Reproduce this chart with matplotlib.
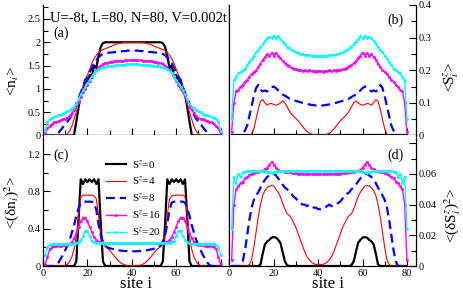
import matplotlib.pyplot as plt

plt.rcParams['font.family'] = ['Liberation Serif', 'DejaVu Serif']
plt.rcParams['mathtext.fontset'] = 'stix'

site = list(range(1, 81))

# (a) <n_i>
n_s0 = [0, 0, 0, 0, 0, 0, 0, 0, 0, 0,
        0, 0, 0, 0.02, 0.3, 0.6, 0.9, 1.0, 1.2, 1.1,
        1.3, 1.25, 1.5, 1.45, 1.7, 1.9, 1.98, 2, 2, 2,
        2, 2, 2, 2, 2, 2, 2, 2, 2, 2,
        2, 2, 2, 2, 2, 2, 2, 2, 2, 2,
        2, 2, 2, 1.98, 1.9, 1.7, 1.45, 1.5, 1.25, 1.3,
        1.1, 1.2, 1.0, 0.9, 0.6, 0.3, 0.02, 0, 0, 0,
        0, 0, 0, 0, 0, 0, 0, 0, 0, 0]
n_s4 = [0, 0, 0, 0, 0, 0, 0, 0, 0, 0.01,
        0.04, 0.1, 0.2, 0.35, 0.5, 0.7, 0.9, 1.05, 1.2, 1.3,
        1.42, 1.55, 1.65, 1.72, 1.78, 1.82, 1.84, 1.86, 1.88, 1.9,
        1.92, 1.94, 1.96, 1.97, 1.98, 1.99, 2, 2, 2, 2,
        2, 2, 2, 2, 1.99, 1.98, 1.97, 1.96, 1.94, 1.92,
        1.9, 1.88, 1.86, 1.84, 1.82, 1.78, 1.72, 1.65, 1.55, 1.42,
        1.3, 1.2, 1.05, 0.9, 0.7, 0.5, 0.35, 0.2, 0.1, 0.04,
        0.01, 0, 0, 0, 0, 0, 0, 0, 0, 0]
n_s8 = [0, 0, 0, 0, 0, 0.02, 0.06, 0.12, 0.18, 0.25,
        0.3, 0.36, 0.45, 0.55, 0.68, 0.8, 0.92, 1.05, 1.15, 1.25,
        1.35, 1.45, 1.55, 1.62, 1.68, 1.72, 1.75, 1.76, 1.77, 1.78,
        1.78, 1.79, 1.79, 1.8, 1.8, 1.81, 1.81, 1.82, 1.82, 1.82,
        1.82, 1.82, 1.82, 1.81, 1.81, 1.8, 1.8, 1.79, 1.79, 1.78,
        1.78, 1.77, 1.76, 1.75, 1.72, 1.68, 1.62, 1.55, 1.45, 1.35,
        1.25, 1.15, 1.05, 0.92, 0.8, 0.68, 0.55, 0.45, 0.36, 0.3,
        0.25, 0.18, 0.12, 0.06, 0.02, 0, 0, 0, 0, 0]
n_s16 = [0.05, 0.15, 0.2, 0.25, 0.28, 0.3, 0.31, 0.33, 0.35, 0.36,
         0.38, 0.42, 0.48, 0.55, 0.62, 0.72, 0.83, 0.93, 1.0, 1.08,
         1.17, 1.26, 1.33, 1.4, 1.46, 1.5, 1.53, 1.55, 1.56, 1.57,
         1.58, 1.59, 1.59, 1.6, 1.6, 1.6, 1.61, 1.61, 1.61, 1.61,
         1.61, 1.61, 1.61, 1.61, 1.6, 1.6, 1.6, 1.59, 1.59, 1.58,
         1.57, 1.56, 1.55, 1.53, 1.5, 1.46, 1.4, 1.33, 1.26, 1.17,
         1.08, 1.0, 0.93, 0.83, 0.72, 0.62, 0.55, 0.48, 0.42, 0.38,
         0.36, 0.35, 0.33, 0.31, 0.3, 0.28, 0.25, 0.2, 0.15, 0.05]
n_s20 = [0.1, 0.3, 0.35, 0.37, 0.4, 0.42, 0.44, 0.45, 0.47, 0.5,
         0.52, 0.55, 0.58, 0.62, 0.68, 0.78, 0.88, 0.97, 1.05, 1.12,
         1.2, 1.27, 1.33, 1.38, 1.42, 1.44, 1.46, 1.47, 1.48, 1.49,
         1.5, 1.5, 1.51, 1.51, 1.52, 1.52, 1.52, 1.53, 1.53, 1.53,
         1.53, 1.53, 1.53, 1.52, 1.52, 1.52, 1.51, 1.51, 1.5, 1.5,
         1.49, 1.48, 1.47, 1.46, 1.44, 1.42, 1.38, 1.33, 1.27, 1.2,
         1.12, 1.05, 0.97, 0.88, 0.78, 0.68, 0.62, 0.58, 0.55, 0.52,
         0.5, 0.47, 0.45, 0.44, 0.42, 0.4, 0.37, 0.35, 0.3, 0.1]

# (b) <S_i^z>
s_s0 = [0, 0, 0, 0, 0, 0, 0, 0, 0, 0,
        0, 0, 0, 0, 0, 0, 0, 0, 0, 0,
        0, 0, 0, 0, 0, 0, 0, 0, 0, 0,
        0, 0, 0, 0, 0, 0, 0, 0, 0, 0,
        0, 0, 0, 0, 0, 0, 0, 0, 0, 0,
        0, 0, 0, 0, 0, 0, 0, 0, 0, 0,
        0, 0, 0, 0, 0, 0, 0, 0, 0, 0,
        0, 0, 0, 0, 0, 0, 0, 0, 0, 0]
s_s4 = [0, 0, 0, 0, 0, 0, 0, 0, 0, 0.005,
        0.02, 0.05, 0.08, 0.105, 0.11, 0.1, 0.093, 0.097, 0.098, 0.095,
        0.093, 0.095, 0.1, 0.106, 0.1, 0.088, 0.075, 0.065, 0.058, 0.052,
        0.045, 0.037, 0.028, 0.019, 0.012, 0.007, 0.004, 0.002, 0.001, 0.001,
        0.001, 0.001, 0.002, 0.004, 0.007, 0.012, 0.019, 0.028, 0.037, 0.045,
        0.052, 0.058, 0.065, 0.075, 0.088, 0.1, 0.106, 0.1, 0.095, 0.093,
        0.095, 0.098, 0.097, 0.093, 0.1, 0.11, 0.105, 0.08, 0.05, 0.02,
        0.005, 0, 0, 0, 0, 0, 0, 0, 0, 0]
s_s8 = [0, 0, 0, 0, 0, 0.005, 0.015, 0.03, 0.06, 0.09,
        0.12, 0.145, 0.155, 0.14, 0.135, 0.138, 0.135, 0.14, 0.148, 0.15,
        0.145, 0.138, 0.13, 0.125, 0.122, 0.118, 0.113, 0.11, 0.108, 0.106,
        0.104, 0.102, 0.1, 0.098, 0.097, 0.095, 0.094, 0.093, 0.092, 0.092,
        0.092, 0.092, 0.093, 0.094, 0.095, 0.097, 0.098, 0.1, 0.102, 0.104,
        0.106, 0.108, 0.11, 0.113, 0.118, 0.122, 0.125, 0.13, 0.138, 0.145,
        0.15, 0.148, 0.14, 0.135, 0.138, 0.135, 0.14, 0.155, 0.145, 0.12,
        0.09, 0.06, 0.03, 0.015, 0.005, 0, 0, 0, 0, 0]
s_s16 = [0.01, 0.1, 0.135, 0.14, 0.15, 0.155, 0.165, 0.17, 0.18, 0.188,
         0.195, 0.2, 0.21, 0.22, 0.232, 0.24, 0.25, 0.243, 0.253, 0.245,
         0.254, 0.245, 0.238, 0.228, 0.222, 0.216, 0.212, 0.208, 0.205, 0.203,
         0.2, 0.202, 0.199, 0.2, 0.197, 0.2, 0.197, 0.199, 0.196, 0.198,
         0.198, 0.196, 0.199, 0.197, 0.2, 0.197, 0.2, 0.199, 0.202, 0.2,
         0.203, 0.205, 0.208, 0.212, 0.216, 0.222, 0.228, 0.238, 0.245, 0.254,
         0.245, 0.253, 0.243, 0.25, 0.24, 0.232, 0.22, 0.21, 0.2, 0.195,
         0.188, 0.18, 0.17, 0.165, 0.155, 0.15, 0.14, 0.135, 0.1, 0.01]
s_s20 = [0.05, 0.17, 0.18, 0.19, 0.195, 0.2, 0.205, 0.215, 0.225, 0.235,
         0.245, 0.255, 0.262, 0.272, 0.28, 0.29, 0.298, 0.303, 0.3, 0.306,
         0.298, 0.305, 0.295, 0.288, 0.28, 0.272, 0.268, 0.262, 0.258, 0.255,
         0.253, 0.25, 0.249, 0.248, 0.247, 0.246, 0.245, 0.245, 0.244, 0.244,
         0.244, 0.244, 0.245, 0.245, 0.246, 0.247, 0.248, 0.249, 0.25, 0.253,
         0.255, 0.258, 0.262, 0.268, 0.272, 0.28, 0.288, 0.295, 0.305, 0.298,
         0.306, 0.3, 0.303, 0.298, 0.29, 0.28, 0.272, 0.262, 0.255, 0.245,
         0.235, 0.225, 0.215, 0.205, 0.2, 0.195, 0.19, 0.18, 0.17, 0.05]

# (c) <(dn_i)^2>
v_s0 = [0, 0, 0, 0, 0, 0, 0, 0, 0, 0,
        0, 0, 0, 0, 0.05, 0.5, 0.93, 0.88, 0.93, 0.9,
        0.93, 0.9, 0.93, 0.88, 0.93, 0.45, 0.05, 0, 0, 0,
        0, 0, 0, 0, 0, 0, 0, 0, 0, 0,
        0, 0, 0, 0, 0, 0, 0, 0, 0, 0,
        0, 0, 0, 0.05, 0.45, 0.93, 0.88, 0.93, 0.9, 0.93,
        0.9, 0.93, 0.88, 0.93, 0.5, 0.05, 0, 0, 0, 0,
        0, 0, 0, 0, 0, 0, 0, 0, 0, 0]
v_s4 = [0, 0, 0, 0, 0, 0, 0, 0, 0, 0.005,
        0.02, 0.05, 0.1, 0.18, 0.32, 0.55, 0.74, 0.76, 0.76, 0.76,
        0.76, 0.76, 0.75, 0.72, 0.55, 0.32, 0.24, 0.21, 0.19, 0.17,
        0.14, 0.11, 0.08, 0.055, 0.035, 0.02, 0.01, 0.005, 0.003, 0.002,
        0.002, 0.003, 0.005, 0.01, 0.02, 0.035, 0.055, 0.08, 0.11, 0.14,
        0.17, 0.19, 0.21, 0.24, 0.32, 0.55, 0.72, 0.75, 0.76, 0.76,
        0.76, 0.76, 0.76, 0.74, 0.55, 0.32, 0.18, 0.1, 0.05, 0.02,
        0.005, 0, 0, 0, 0, 0, 0, 0, 0, 0]
v_s8 = [0, 0, 0, 0, 0, 0.01, 0.04, 0.08, 0.12, 0.17,
        0.22, 0.28, 0.36, 0.44, 0.54, 0.62, 0.68, 0.69, 0.69, 0.69,
        0.69, 0.69, 0.68, 0.6, 0.45, 0.33, 0.26, 0.22, 0.2, 0.19,
        0.185, 0.18, 0.175, 0.17, 0.165, 0.163, 0.16, 0.16, 0.158, 0.158,
        0.158, 0.158, 0.16, 0.16, 0.163, 0.165, 0.17, 0.175, 0.18, 0.185,
        0.19, 0.2, 0.22, 0.26, 0.33, 0.45, 0.6, 0.68, 0.69, 0.69,
        0.69, 0.69, 0.69, 0.68, 0.62, 0.54, 0.44, 0.36, 0.28, 0.22,
        0.17, 0.12, 0.08, 0.04, 0.01, 0, 0, 0, 0, 0]
v_s16 = [0.02, 0.1, 0.18, 0.2, 0.21, 0.215, 0.22, 0.22, 0.225, 0.225,
         0.23, 0.24, 0.26, 0.3, 0.35, 0.42, 0.48, 0.52, 0.52, 0.48,
         0.42, 0.36, 0.31, 0.28, 0.26, 0.255, 0.25, 0.25, 0.25, 0.25,
         0.25, 0.25, 0.25, 0.25, 0.25, 0.25, 0.25, 0.25, 0.25, 0.25,
         0.25, 0.25, 0.25, 0.25, 0.25, 0.25, 0.25, 0.25, 0.25, 0.25,
         0.25, 0.25, 0.25, 0.25, 0.255, 0.26, 0.28, 0.31, 0.36, 0.42,
         0.48, 0.52, 0.52, 0.48, 0.42, 0.35, 0.3, 0.26, 0.24, 0.23,
         0.225, 0.225, 0.22, 0.22, 0.215, 0.21, 0.2, 0.18, 0.1, 0.02]
v_s20 = [0.12, 0.2, 0.23, 0.235, 0.24, 0.24, 0.24, 0.24, 0.24, 0.24,
         0.24, 0.24, 0.24, 0.24, 0.245, 0.26, 0.28, 0.32, 0.38, 0.38,
         0.32, 0.27, 0.255, 0.25, 0.25, 0.25, 0.25, 0.25, 0.25, 0.25,
         0.25, 0.25, 0.25, 0.25, 0.25, 0.25, 0.25, 0.25, 0.25, 0.25,
         0.25, 0.25, 0.25, 0.25, 0.25, 0.25, 0.25, 0.25, 0.25, 0.25,
         0.25, 0.25, 0.25, 0.25, 0.25, 0.25, 0.25, 0.255, 0.27, 0.32,
         0.38, 0.38, 0.32, 0.28, 0.26, 0.245, 0.24, 0.24, 0.24, 0.24,
         0.24, 0.24, 0.24, 0.24, 0.24, 0.24, 0.235, 0.23, 0.2, 0.12]

# (d) <(dS_i^z)^2>
w_s0 = [0, 0, 0, 0, 0, 0, 0, 0, 0, 0,
        0, 0, 0, 0.001, 0.008, 0.014, 0.016, 0.017, 0.0185, 0.0188,
        0.0185, 0.017, 0.015, 0.009, 0.003, 0.0005, 0, 0, 0, 0,
        0, 0, 0, 0, 0, 0, 0, 0, 0, 0,
        0, 0, 0, 0, 0, 0, 0, 0, 0, 0,
        0, 0, 0, 0, 0.0005, 0.003, 0.009, 0.015, 0.017, 0.0185,
        0.0188, 0.0185, 0.017, 0.016, 0.014, 0.008, 0.001, 0, 0, 0,
        0, 0, 0, 0, 0, 0, 0, 0, 0, 0]
w_s4 = [0, 0, 0, 0, 0, 0, 0, 0, 0.001, 0.004,
        0.012, 0.022, 0.032, 0.04, 0.046, 0.049, 0.051, 0.052, 0.0525, 0.052,
        0.05, 0.048, 0.045, 0.041, 0.037, 0.034, 0.033, 0.031, 0.028, 0.025,
        0.021, 0.017, 0.013, 0.009, 0.006, 0.004, 0.0025, 0.0015, 0.001, 0.001,
        0.001, 0.001, 0.0015, 0.0025, 0.004, 0.006, 0.009, 0.013, 0.017, 0.021,
        0.025, 0.028, 0.031, 0.033, 0.034, 0.037, 0.041, 0.045, 0.048, 0.05,
        0.052, 0.0525, 0.052, 0.051, 0.049, 0.046, 0.04, 0.032, 0.022, 0.012,
        0.004, 0.001, 0, 0, 0, 0, 0, 0, 0, 0]
w_s8 = [0, 0, 0, 0, 0, 0.003, 0.01, 0.02, 0.03, 0.038,
        0.043, 0.046, 0.048, 0.051, 0.054, 0.056, 0.058, 0.059, 0.06, 0.06,
        0.059, 0.057, 0.055, 0.053, 0.051, 0.05, 0.048, 0.047, 0.045, 0.044,
        0.042, 0.041, 0.04, 0.04, 0.039, 0.04, 0.039, 0.038, 0.038, 0.037,
        0.037, 0.038, 0.038, 0.039, 0.04, 0.039, 0.04, 0.04, 0.041, 0.042,
        0.044, 0.045, 0.047, 0.048, 0.05, 0.051, 0.053, 0.055, 0.057, 0.059,
        0.06, 0.06, 0.059, 0.058, 0.056, 0.054, 0.051, 0.048, 0.046, 0.043,
        0.038, 0.03, 0.02, 0.01, 0.003, 0, 0, 0, 0, 0]
w_s16 = [0.004, 0.04, 0.05, 0.052, 0.054, 0.055, 0.057, 0.058, 0.059, 0.06,
         0.0605, 0.061, 0.0613, 0.0617, 0.062, 0.063, 0.064, 0.066, 0.0677, 0.066,
         0.064, 0.0625, 0.062, 0.0618, 0.0615, 0.0613, 0.061, 0.0608, 0.0605, 0.0603,
         0.06, 0.0602, 0.0598, 0.06, 0.0597, 0.06, 0.0597, 0.0598, 0.0596, 0.0597,
         0.0597, 0.0596, 0.0598, 0.0597, 0.06, 0.0597, 0.06, 0.0598, 0.0602, 0.06,
         0.0603, 0.0605, 0.0608, 0.061, 0.0613, 0.0615, 0.0618, 0.062, 0.0625, 0.064,
         0.066, 0.0677, 0.066, 0.064, 0.063, 0.062, 0.0617, 0.0613, 0.061, 0.0605,
         0.06, 0.059, 0.058, 0.057, 0.055, 0.054, 0.052, 0.05, 0.04, 0.004]
w_s20 = [0.024, 0.058, 0.054, 0.06, 0.058, 0.061, 0.0615, 0.062, 0.062, 0.062,
         0.062, 0.062, 0.062, 0.062, 0.062, 0.062, 0.0615, 0.061, 0.0605, 0.061,
         0.0615, 0.062, 0.062, 0.062, 0.062, 0.062, 0.062, 0.062, 0.062, 0.062,
         0.062, 0.062, 0.062, 0.062, 0.062, 0.062, 0.062, 0.062, 0.062, 0.062,
         0.062, 0.062, 0.062, 0.062, 0.062, 0.062, 0.062, 0.062, 0.062, 0.062,
         0.062, 0.062, 0.062, 0.062, 0.062, 0.062, 0.062, 0.062, 0.062, 0.0615,
         0.061, 0.0605, 0.061, 0.0615, 0.062, 0.062, 0.062, 0.062, 0.062, 0.062,
         0.062, 0.062, 0.062, 0.0615, 0.061, 0.058, 0.06, 0.054, 0.058, 0.024]

labels = ['S$^z$=0', 'S$^z$=4', 'S$^z$=8', 'S$^z$=16', 'S$^z$=20']
colors = ['black', 'red', 'blue', 'magenta', 'cyan']
widths = [1.6, 0.8, 1.6, 1.0, 1.0]
styles = ['-', '-', (0, (4, 2.2)), '-', '-']
marks = ['', '', '', '.', '.']

panels = [
    ([n_s0, n_s4, n_s8, n_s16, n_s20], 2.8,
     [0, 0.5, 1, 1.5, 2, 2.5], ['0', '0.5', '1', '1.5', '2', '2.5'],
     [0.25, 0.75, 1.25, 1.75, 2.25, 2.75], '<n$_i$>', '(a)'),
    ([s_s0, s_s4, s_s8, s_s16, s_s20], 0.4,
     [0, 0.1, 0.2, 0.3, 0.4], ['0', '0.1', '0.2', '0.3', '0.4'],
     [0.05, 0.15, 0.25, 0.35], '<S$_i^z$>', '(b)'),
    ([v_s0, v_s4, v_s8, v_s16, v_s20], 1.4,
     [0, 0.4, 0.8, 1.2], ['0', '0.4', '0.8', '1.2'],
     [0.2, 0.6, 1.0], '<(δn$_i$)$^2$>', '(c)'),
    ([w_s0, w_s4, w_s8, w_s16, w_s20], 0.085,
     [0, 0.02, 0.04, 0.06, 0.08], ['0', '0.02', '0.04', '0.06', ''],
     [0.01, 0.03, 0.05, 0.07], '<(δS$_i^z$)$^2$>', '(d)'),
]

fig, axes = plt.subplots(2, 2, figsize=(4.63, 2.92), dpi=100)
fig.subplots_adjust(left=0.093, right=0.898, top=0.983, bottom=0.089, wspace=0, hspace=0)

for k, ax in enumerate(axes.flat):
    series, ytop, yt, ytl, ymin, ylab, tag = panels[k]
    for y, lab, c, lw, ls, mk in zip(series, labels, colors, widths, styles, marks):
        ax.plot(site, y, color=c, lw=lw, ls=ls, marker=mk, ms=2.2, label=lab)
    ax.set_xlim(0, 84)
    ax.set_ylim(0, ytop)
    ax.set_xticks([0, 20, 40, 60, 80])
    ax.set_xticks([10, 30, 50, 70], minor=True)
    ax.set_yticks(yt)
    ax.set_yticklabels(ytl)
    ax.set_yticks(ymin, minor=True)
    ax.tick_params(which='both', direction='in', labelsize=7.5, pad=2, width=0.8)
    ax.tick_params(which='major', length=5)
    ax.tick_params(which='minor', length=3.5)
    ax.spines['top'].set_visible(False)
    for sp in ax.spines.values():
        sp.set_linewidth(0.9)
    col = k % 2
    row = k // 2
    if col == 1:
        ax.yaxis.tick_right()
        ax.yaxis.set_label_position('right')
        ax.set_ylabel(ylab, fontsize=11)
        ax.yaxis.set_label_coords(1.14, 0.45 if row == 0 else 0.39)
    else:
        ax.set_ylabel(ylab, fontsize=11)
        ax.yaxis.set_label_coords(-0.12, 0.42 if row == 0 else 0.49)
    if row == 0:
        ax.tick_params(labelbottom=False)
    else:
        if col == 0:
            ax.set_xticklabels(['0', '20', '40', '60', ''])
        else:
            ax.set_xticklabels(['0', '20', '40', '60', '80'])
        ax.set_xlabel('site i', fontsize=12)
        ax.xaxis.set_label_coords(0.5 if col == 0 else 0.527, -0.08)
    if col == 0:
        ax.text(0.054, 0.785 if row == 0 else 0.847, tag, transform=ax.transAxes, fontsize=10, va='center')
    else:
        ax.text(0.85, 0.885 if row == 0 else 0.847, tag, transform=ax.transAxes, fontsize=10, va='center')

axes[0, 0].text(0.035, 0.9, 'U=-8t, L=80, N=80, V=0.002t', transform=axes[0, 0].transAxes,
                fontsize=10.5, va='center')

axes[1, 0].legend(loc='upper left', bbox_to_anchor=(0.31, 0.87), frameon=False, fontsize=8,
                  handlelength=1.8, handletextpad=0.5, labelspacing=0.4, borderpad=0)

fig.savefig('out.png', dpi=100)
